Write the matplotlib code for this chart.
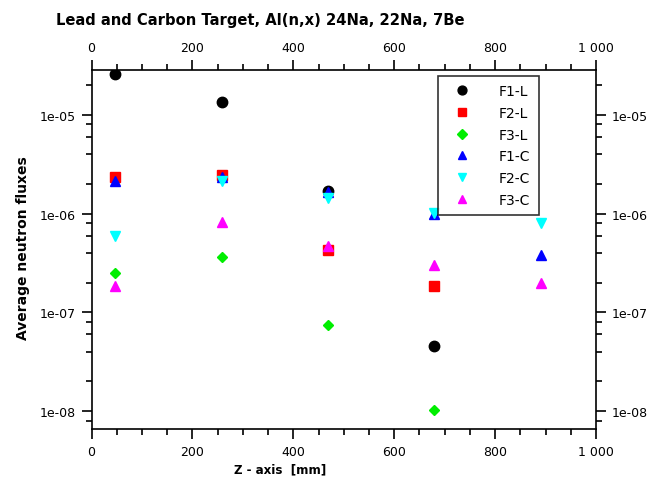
import matplotlib
matplotlib.use("Agg")
import matplotlib.pyplot as plt
from matplotlib.ticker import LogLocator, FixedLocator, FuncFormatter, NullFormatter

# Data
z_L = [47, 258, 469, 679]
z_C = [47, 258, 469, 679, 890]
F1_L = [2.60e-5, 1.36e-5, 1.70e-6, 4.6e-8]
F2_L = [2.37e-6, 2.47e-6, 4.3e-7, 1.86e-7]
F3_L = [2.48e-7, 3.63e-7, 7.5e-8, 1.02e-8]
F1_C = [2.16e-6, 2.34e-6, 1.67e-6, 1.0e-6, 3.85e-7]
F2_C = [6.0e-7, 2.16e-6, 1.45e-6, 1.02e-6, 8.0e-7]
F3_C = [1.85e-7, 8.2e-7, 4.75e-7, 2.99e-7, 2.0e-7]
x_ticks = [0, 200, 400, 600, 800, 1000]
y_ticks = [1e-5, 1e-6, 1e-7, 1e-8]

fig = plt.figure(figsize=(6.54, 4.85), dpi=100)
ax = fig.add_axes([91.5/654, 1-430/485, (596-91.5)/654, (430-71)/485])

ax.plot(z_L, F1_L, linestyle='none', marker='o', color='black', markersize=7.5, label='F1-L')
ax.plot(z_L, F2_L, linestyle='none', marker='s', color='red', markersize=7.5, label='F2-L')
ax.plot(z_L, F3_L, linestyle='none', marker='D', color='#00ee00', markersize=5.5, label='F3-L')
ax.plot(z_C, F1_C, linestyle='none', marker='^', color='blue', markersize=6.5, label='F1-C')
ax.plot(z_C, F2_C, linestyle='none', marker='v', color='cyan', markersize=6.5, label='F2-C')
ax.plot(z_C, F3_C, linestyle='none', marker='^', color='magenta', markersize=6.5, label='F3-C')

ax.set_yscale('log')
ax.set_xlim(0, 1000)
ax.set_ylim(6.6e-9, 2.85e-5)

ax.xaxis.set_major_locator(FixedLocator(x_ticks))
ax.xaxis.set_minor_locator(FixedLocator(list(range(50, 1000, 50))))
ax.xaxis.set_major_formatter(FuncFormatter(lambda v, p: '1 000' if v == 1000 else f'{int(v)}'))
ax.yaxis.set_major_locator(FixedLocator(y_ticks))
ax.yaxis.set_minor_locator(LogLocator(base=10, subs=(2, 4, 6, 8), numticks=20))
ax.yaxis.set_major_formatter(FuncFormatter(lambda v, p: f'{v:.0e}'))
ax.yaxis.set_minor_formatter(NullFormatter())

for s in ax.spines.values():
    s.set_linewidth(1.2)
ax.tick_params(which='both', direction='out', top=True, right=True,
               labeltop=True, labelright=True, width=1.2, labelsize=9, colors='black')
ax.tick_params(which='major', length=7.5)
ax.tick_params(which='minor', length=4.5)
ax.tick_params(axis='x', which='major', pad=4)
ax.tick_params(axis='y', which='major', pad=4)

fig.text(260/654, 1-20/485, 'Lead and Carbon Target, Al(n,x) 24Na, 22Na, 7Be',
         ha='center', va='center', fontsize=10.6, fontweight='bold')
fig.text(280/654, 1-470/485, 'Z - axis  [mm]', ha='center', va='center',
         fontsize=8.6, fontweight='bold')
fig.text(23/654, 1-248/485, 'Average neutron fluxes', ha='center', va='center',
         rotation=90, fontsize=10, fontweight='bold')

leg = ax.legend(loc='upper left', bbox_to_anchor=((438-91.5)/504.5, 1-(77-71)/359),
                frameon=True, fancybox=False, edgecolor='black', fontsize=10,
                borderpad=0.6, labelspacing=0.55, handletextpad=1.6, borderaxespad=0,
                handlelength=2.2, markerscale=0.85)
leg.get_frame().set_linewidth(1.2)

fig.savefig('out.png', dpi=100)
